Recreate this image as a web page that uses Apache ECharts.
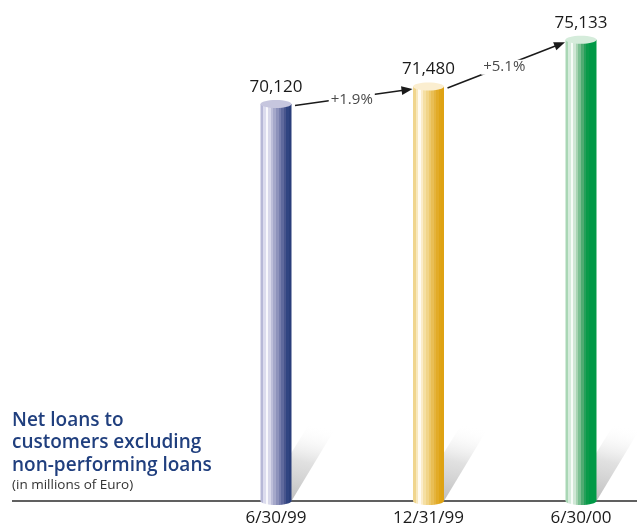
<!DOCTYPE html>
<html>
<head>
<meta charset="utf-8">
<script src="https://cdn.jsdelivr.net/npm/echarts@6/dist/echarts.min.js"></script>
<style>
  html, body { margin: 0; padding: 0; background: #ffffff; }
  #chart { width: 637px; height: 528px; }
</style>
</head>
<body>
<div id="chart"></div>
<script>
// Reporting dates and net loans (in millions of Euro)
const periods = ['6/30/99', '12/31/99', '6/30/00'];
const netLoans = [70120, 71480, 75133];

// Vertical colour bands of each cylinder, left to right
const bandColors = [
  ['#b7b8d7', '#dcdcee', '#f8f8fc', '#d8d8ea', '#bdbed9', '#a5a8ca', '#8d92bb', '#767dac', '#5f699d', '#48558d', '#304481', '#2a3e7a'],
  ['#f0d58d', '#f8e8bd', '#fffaf0', '#fbecca', '#f5dfa3', '#f1d488', '#edc96d', '#e9be55', '#e5b43e', '#e2ab28', '#dfa416', '#dea213'],
  ['#a9d7b5', '#d5ebdb', '#f6fbf7', '#cfe7d5', '#a6d4b2', '#7cc093', '#4fab72', '#24a05a', '#0a9a4a', '#009946', '#009946', '#009946']
];
// Colour of the elliptical top of each cylinder
const capColors = ['#c6c6de', '#fbeed0', '#d5ecdb'];

const FONT = '"Open Sans", "Liberation Sans", sans-serif';
const GRID = { left: 276, right: 56, top: 27.4, bottom: 27 };

function steppedStops(bands) {
  const n = bands.length, stops = [];
  bands.forEach((c, k) => {
    stops.push({ offset: k / n, color: c });
    stops.push({ offset: (k + 1) / n, color: c });
  });
  return stops;
}

function renderCylinder(params, api) {
  const i = params.dataIndex;
  const v = api.value(1);
  const top = api.coord([i, v]);
  const cs = params.coordSys;
  const baseY = cs.y + cs.height;
  const cx = top[0];
  const hw = 15.5, ry = 4;
  const bodyFill = new echarts.graphic.LinearGradient(0, 0, 1, 0, steppedStops(bandColors[i]));
  const children = [];

  // cast shadow to the upper right
  children.push({
    type: 'polygon',
    shape: { points: [[cx - hw + 1, baseY], [cx + hw, baseY], [cx + hw + 44, baseY - 73], [cx + hw + 22, baseY - 84]] },
    style: {
      fill: new echarts.graphic.LinearGradient(0, 1, 0.25, 0, [
        { offset: 0, color: 'rgba(160,160,160,0.75)' },
        { offset: 0.55, color: 'rgba(200,200,200,0.55)' },
        { offset: 1, color: 'rgba(255,255,255,0)' }
      ])
    }
  });
  // bottom rim
  children.push({ type: 'ellipse', shape: { cx: cx, cy: baseY, rx: hw, ry: ry }, style: { fill: bodyFill } });
  // body
  children.push({ type: 'rect', shape: { x: cx - hw, y: top[1], width: hw * 2, height: baseY - top[1] }, style: { fill: bodyFill } });
  // top cap
  children.push({ type: 'ellipse', shape: { cx: cx, cy: top[1], rx: hw, ry: ry }, style: { fill: capColors[i] } });
  // value label
  children.push({
    type: 'text', x: cx, y: top[1] - 17,
    style: { text: v.toLocaleString('en-US'), fill: '#1a1a1a', font: '17px ' + FONT, align: 'center', verticalAlign: 'middle' }
  });

  // growth arrow from the previous period
  if (i > 0) {
    const prevVal = netLoans[i - 1];
    const prev = api.coord([i - 1, prevVal]);
    const s = [prev[0] + 19, prev[1] + 1.5];
    const e = [cx - 16, top[1] + 2.5];
    const dx = e[0] - s[0], dy = e[1] - s[1];
    const len = Math.sqrt(dx * dx + dy * dy);
    const ux = dx / len, uy = dy / len;
    const nx = -uy, ny = ux;
    const headL = 11, headW = 4.4;
    const hb = [e[0] - ux * headL, e[1] - uy * headL];
    children.push({
      type: 'line',
      shape: { x1: s[0], y1: s[1], x2: hb[0] + ux * 2, y2: hb[1] + uy * 2 },
      style: { stroke: '#1a1a1a', lineWidth: 1.5 }
    });
    children.push({
      type: 'polygon',
      shape: { points: [e, [hb[0] + nx * headW, hb[1] + ny * headW], [hb[0] - nx * headW, hb[1] - ny * headW]] },
      style: { fill: '#1a1a1a' }
    });
    const pct = ((v / prevVal - 1) * 100).toFixed(1);
    children.push({
      type: 'text', x: (s[0] + e[0]) / 2 - 2, y: (s[1] + e[1]) / 2 + 2,
      style: {
        text: '+' + pct + '%', fill: '#4a4a4a', font: '15px ' + FONT,
        align: 'center', verticalAlign: 'middle', backgroundColor: '#ffffff', padding: [0, 2]
      }
    });
  }
  return { type: 'group', children: children };
}

const chart = echarts.init(document.getElementById('chart'));
chart.setOption({
  backgroundColor: '#ffffff',
  animation: false,
  title: {
    left: 7,
    top: 404,
    text: 'Net loans to\ncustomers excluding\nnon-performing loans',
    subtext: '(in millions of Euro)',
    itemGap: 1,
    textStyle: { color: '#203f7e', fontSize: 19, fontWeight: 600, fontFamily: FONT, lineHeight: 22.5 },
    subtextStyle: { color: '#333333', fontSize: 13.5, fontFamily: FONT, lineHeight: 15 }
  },
  grid: GRID,
  xAxis: {
    type: 'category',
    data: periods,
    boundaryGap: false,
    axisLine: { show: false },
    axisTick: { show: false },
    axisLabel: { color: '#1a1a1a', fontSize: 17, fontFamily: FONT, margin: 9 }
  },
  yAxis: {
    type: 'value',
    min: 39100,
    max: 76100,
    show: false
  },
  graphic: [{
    type: 'line',
    z: 0,
    shape: { x1: 12, y1: 528 - GRID.bottom, x2: 637, y2: 528 - GRID.bottom },
    style: { stroke: '#2b2b2b', lineWidth: 1.5 }
  }],
  series: [{
    type: 'custom',
    clip: false,
    z: 5,
    renderItem: renderCylinder,
    encode: { x: 0, y: 1 },
    data: netLoans.map((v, i) => [i, v])
  }]
});
</script>
</body>
</html>
